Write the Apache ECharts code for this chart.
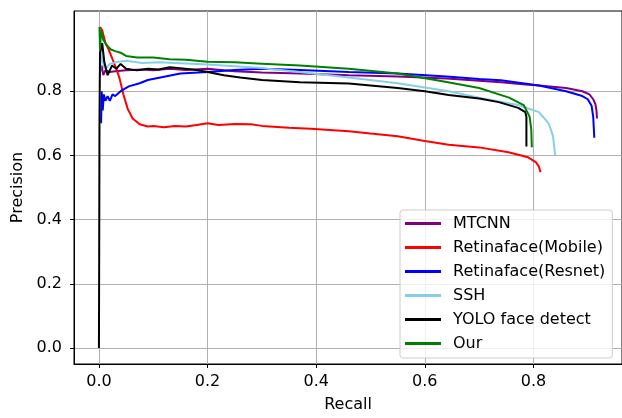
<!DOCTYPE html>
<html>
<head>
<meta charset="utf-8">
<script src="https://cdn.jsdelivr.net/npm/echarts@6/dist/echarts.min.js"></script>
<style>
  html, body { margin: 0; padding: 0; background: #fff; }
  #chart { width: 622px; height: 418px; }
</style>
</head>
<body>
<div id="chart"></div>
<script>
// tick labels
var xTicks = [0.0, 0.2, 0.4, 0.6, 0.8];
var yTicks = [0.0, 0.2, 0.4, 0.6, 0.8];

var seriesNames = ['MTCNN', 'Retinaface(Mobile)', 'Retinaface(Resnet)', 'SSH', 'YOLO face detect', 'Our'];
var seriesColors = ['#800080', '#ff0000', '#0000ff', '#87ceeb', '#000000', '#008000'];

// [recall, precision]
var mtcnn = [
  [0.002, 0.86], [0.005, 0.88], [0.008, 0.85], [0.012, 0.865], [0.02, 0.86], [0.03, 0.862],
  [0.05, 0.865], [0.08, 0.868], [0.1, 0.865], [0.13, 0.87], [0.16, 0.866], [0.2, 0.87],
  [0.25, 0.862], [0.3, 0.858], [0.37, 0.855], [0.46, 0.85], [0.55, 0.846], [0.64, 0.84],
  [0.7, 0.833], [0.74, 0.828], [0.78, 0.822], [0.81, 0.818], [0.86, 0.81], [0.89, 0.80],
  [0.903, 0.79], [0.91, 0.775], [0.914, 0.76], [0.916, 0.74], [0.917, 0.715]
];
var mobile = [
  [0.002, 1.0], [0.006, 0.99], [0.012, 0.95], [0.018, 0.93], [0.025, 0.90], [0.032, 0.87],
  [0.038, 0.84], [0.045, 0.79], [0.053, 0.745], [0.062, 0.715], [0.075, 0.697], [0.09, 0.69],
  [0.1, 0.692], [0.12, 0.688], [0.14, 0.692], [0.16, 0.69], [0.18, 0.695], [0.2, 0.70],
  [0.22, 0.695], [0.25, 0.698], [0.28, 0.697], [0.3, 0.692], [0.35, 0.686], [0.39, 0.683],
  [0.46, 0.675], [0.5, 0.668], [0.55, 0.66], [0.6, 0.645], [0.644, 0.633], [0.7, 0.625],
  [0.754, 0.61], [0.79, 0.594], [0.805, 0.578], [0.81, 0.565], [0.813, 0.548]
];
var resnet = [
  [0.004, 0.70], [0.005, 0.80], [0.007, 0.74], [0.009, 0.79], [0.012, 0.77], [0.016, 0.785],
  [0.02, 0.77], [0.025, 0.79], [0.03, 0.785], [0.04, 0.80], [0.055, 0.815], [0.075, 0.825],
  [0.09, 0.835], [0.12, 0.845], [0.15, 0.855], [0.2, 0.86], [0.25, 0.866], [0.3, 0.87],
  [0.37, 0.866], [0.46, 0.86], [0.55, 0.855], [0.64, 0.846], [0.7, 0.838], [0.74, 0.834],
  [0.78, 0.825], [0.81, 0.818], [0.86, 0.80], [0.89, 0.785], [0.9, 0.775], [0.907, 0.755],
  [0.91, 0.72], [0.912, 0.655]
];
var ssh = [
  [0.002, 0.85], [0.004, 0.93], [0.006, 0.90], [0.01, 0.87], [0.015, 0.875], [0.02, 0.885],
  [0.03, 0.89], [0.05, 0.895], [0.08, 0.888], [0.11, 0.89], [0.15, 0.887], [0.2, 0.883],
  [0.25, 0.878], [0.3, 0.872], [0.37, 0.86], [0.46, 0.843], [0.55, 0.825], [0.644, 0.80],
  [0.7, 0.78], [0.772, 0.757], [0.81, 0.735], [0.828, 0.70], [0.836, 0.66], [0.84, 0.60]
];
var yolo = [
  [0.0, 0.0], [0.0005, 0.3], [0.001, 0.7], [0.002, 0.92], [0.006, 0.95], [0.01, 0.89],
  [0.016, 0.85], [0.024, 0.88], [0.032, 0.87], [0.04, 0.885], [0.05, 0.87], [0.07, 0.865],
  [0.09, 0.87], [0.11, 0.868], [0.13, 0.875], [0.15, 0.872], [0.18, 0.866], [0.2, 0.86],
  [0.23, 0.85], [0.26, 0.843], [0.3, 0.835], [0.37, 0.828], [0.46, 0.824], [0.55, 0.81],
  [0.6, 0.80], [0.644, 0.788], [0.7, 0.777], [0.736, 0.766], [0.772, 0.748], [0.785, 0.735],
  [0.787, 0.72], [0.787, 0.628]
];
var ours = [
  [0.001, 1.0], [0.002, 0.93], [0.004, 0.99], [0.008, 0.96], [0.012, 0.95], [0.016, 0.94],
  [0.022, 0.93], [0.03, 0.925], [0.04, 0.92], [0.05, 0.91], [0.07, 0.905], [0.1, 0.905],
  [0.13, 0.90], [0.16, 0.898], [0.2, 0.892], [0.25, 0.89], [0.3, 0.886], [0.37, 0.88],
  [0.46, 0.87], [0.55, 0.855], [0.635, 0.83], [0.7, 0.81], [0.755, 0.78], [0.782, 0.757],
  [0.793, 0.72], [0.796, 0.68], [0.797, 0.625]
];
var curves = [mtcnn, mobile, resnet, ssh, yolo, ours];

var font = 'DejaVu Sans';
var chart = echarts.init(document.getElementById('chart'));

var series = seriesNames.map(function (name, i) {
  return {
    name: name,
    type: 'line',
    data: curves[i],
    showSymbol: false,
    symbol: 'none',
    lineStyle: { color: seriesColors[i], width: 2 },
    itemStyle: { color: seriesColors[i] }
  };
});

var option = {
  animation: false,
  textStyle: { fontFamily: font },
  grid: {
    left: 74, right: -2, top: 11, bottom: 51,
    show: true, borderColor: '#000', borderWidth: 1
  },
  xAxis: {
    type: 'value',
    min: -0.0459, max: 0.963,
    name: 'Recall', nameLocation: 'middle', nameGap: 33,
    nameTextStyle: { fontSize: 16, color: '#000', fontFamily: font },
    axisLine: { show: true, onZero: false, lineStyle: { color: '#000' } },
    axisTick: { show: true, length: 4, customValues: xTicks, lineStyle: { color: '#000' } },
    axisLabel: {
      customValues: xTicks, margin: 10, fontSize: 16, color: '#000', fontFamily: font,
      formatter: function (v) { return v.toFixed(1); }
    },
    splitLine: { show: true, lineStyle: { color: '#b0b0b0', width: 1 } }
  },
  yAxis: {
    type: 'value',
    min: -0.05, max: 1.05,
    name: 'Precision', nameLocation: 'middle', nameGap: 47,
    nameTextStyle: { fontSize: 16, color: '#000', fontFamily: font },
    axisLine: { show: true, onZero: false, lineStyle: { color: '#000' } },
    axisTick: { show: true, length: 4, customValues: yTicks, lineStyle: { color: '#000' } },
    axisLabel: {
      customValues: yTicks, margin: 12, fontSize: 16, color: '#000', fontFamily: font,
      formatter: function (v) { return v.toFixed(1); }
    },
    splitLine: { show: true, lineStyle: { color: '#b0b0b0', width: 1 } }
  },
  legend: {
    data: seriesNames,
    orient: 'vertical',
    left: 400, top: 210,
    padding: [5, 7, 6, 5],
    itemGap: 7,
    itemWidth: 36, itemHeight: 3,
    icon: 'rect',
    backgroundColor: 'rgba(255,255,255,0.8)',
    borderColor: '#cccccc', borderWidth: 1, borderRadius: 3,
    textStyle: { fontSize: 16, color: '#000', fontFamily: font, lineHeight: 17, padding: [0, 0, 0, 7] }
  },
  series: series
};

chart.setOption(option);
</script>
</body>
</html>
